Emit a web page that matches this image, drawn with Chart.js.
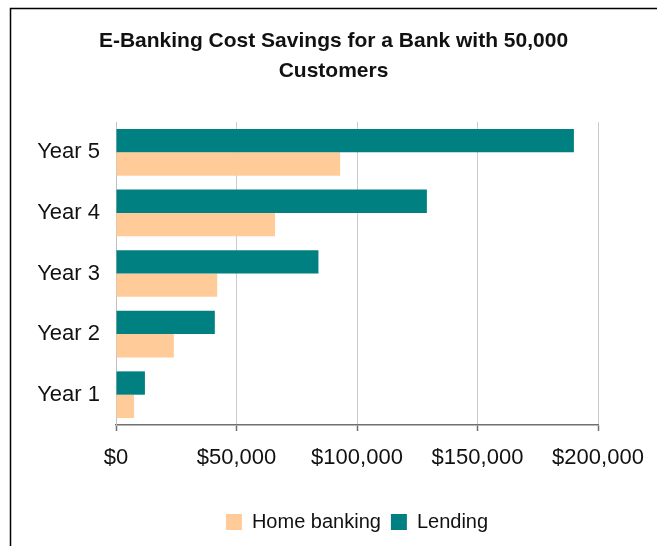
<!DOCTYPE html>
<html>
<head>
<meta charset="utf-8">
<script src="https://cdn.jsdelivr.net/npm/chart.js@4.4.1/dist/chart.umd.min.js"></script>
<style>
  html, body { margin: 0; padding: 0; background: #ffffff; }
  #wrap { position: relative; width: 657px; height: 546px; }
</style>
</head>
<body>
<div id="wrap"><canvas id="chart" width="657" height="546"></canvas></div>
<script>
// Years, top to bottom
const categories = ['Year 5', 'Year 4', 'Year 3', 'Year 2', 'Year 1'];
// Annual savings in dollars
const lending = [190000, 129000, 84000, 41000, 12000];
const homeBanking = [93000, 66000, 42000, 24000, 7500];
// Value axis ticks
const axisTicks = [0, 50000, 100000, 150000, 200000];
const titleLines = ['E-Banking Cost Savings for a Bank with 50,000', 'Customers'];

const FONT = '"Liberation Sans", Arial, Helvetica, sans-serif';

// Outer frame (top and left edges of the chart box)
const framePlugin = {
  id: 'frame',
  beforeDraw(chart) {
    const ctx = chart.ctx;
    ctx.save();
    ctx.fillStyle = '#ffffff';
    ctx.fillRect(0, 0, chart.width, chart.height);
    ctx.strokeStyle = '#000000';
    ctx.lineWidth = 1.5;
    ctx.beginPath();
    ctx.moveTo(10.5, chart.height);
    ctx.lineTo(10.5, 8.5);
    ctx.lineTo(chart.width, 8.5);
    ctx.stroke();
    ctx.restore();
  }
};

new Chart(document.getElementById('chart'), {
  type: 'bar',
  data: {
    labels: categories,
    datasets: [
      {
        label: 'Lending',
        data: lending,
        backgroundColor: '#008080',
        borderWidth: 0
      },
      {
        label: 'Home banking',
        data: homeBanking,
        backgroundColor: '#FFCC99',
        borderWidth: 0
      }
    ]
  },
  options: {
    indexAxis: 'y',
    responsive: false,
    animation: false,
    devicePixelRatio: 1,
    categoryPercentage: 0.77,
    barPercentage: 1.0,
    layout: {
      padding: { left: 10, right: 0, top: 0, bottom: 4 }
    },
    scales: {
      x: {
        min: 0,
        max: 200000,
        afterBuildTicks(scale) {
          scale.ticks = axisTicks.map(v => ({ value: v }));
        },
        afterFit(scale) {
          scale.height = 77;
          scale.paddingRight = 59;
        },
        grid: {
          color: '#cccccc',
          lineWidth: 1,
          drawTicks: true,
          tickLength: 6,
          tickColor: '#707070',
          tickWidth: 1.5
        },
        border: { display: true, color: '#707070', width: 1.5 },
        ticks: {
          color: '#111111',
          padding: 14,
          maxRotation: 0,
          font: { family: FONT, size: 22 },
          callback: v => '$' + Number(v).toLocaleString('en-US')
        }
      },
      y: {
        afterFit(scale) { scale.width = 106; },
        grid: { display: false, drawTicks: false },
        border: { display: true, color: '#c0c0c0', width: 1 },
        ticks: {
          color: '#111111',
          padding: 16,
          font: { family: FONT, size: 22 }
        }
      }
    },
    plugins: {
      title: {
        display: true,
        text: titleLines,
        color: '#111111',
        font: { family: FONT, size: 21, weight: 'bold', lineHeight: 1.43 },
        padding: { top: 26, bottom: 36 }
      },
      legend: {
        display: true,
        position: 'bottom',
        fullSize: false,
        reverse: true,
        labels: {
          color: '#111111',
          boxWidth: 16,
          boxHeight: 16,
          padding: 10,
          font: { family: FONT, size: 20 }
        }
      },
      tooltip: { enabled: false }
    }
  },
  plugins: [framePlugin]
});
</script>
</body>
</html>
